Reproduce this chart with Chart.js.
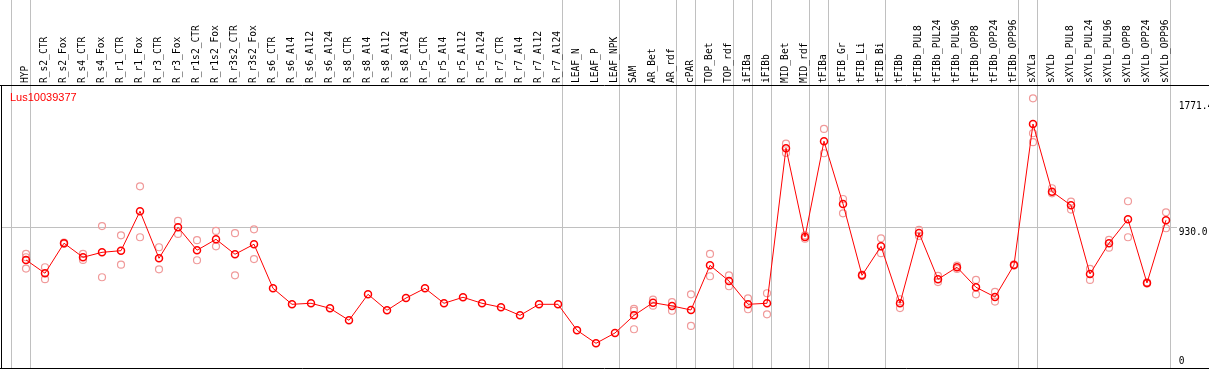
<!DOCTYPE html>
<html>
<head>
<meta charset="utf-8">
<title>Lus10039377</title>
<script src="https://cdn.jsdelivr.net/npm/chart.js@4/dist/chart.umd.min.js"></script>
<style>
  html, body { margin: 0; padding: 0; background: #fff; }
  canvas { display: block; }
</style>
</head>
<body>
<canvas id="chart" width="1209" height="370"></canvas>
<script>
var geneName = "Lus10039377";

var categories = [
	"HYP", "R_s2_CTR", "R_s2_Fox", "R_s4_CTR", "R_s4_Fox", "R_r1_CTR", "R_r1_Fox", "R_r3_CTR", "R_r3_Fox",
	"R_r1s2_CTR", "R_r1s2_Fox", "R_r3s2_CTR", "R_r3s2_Fox", "R_s6_CTR", "R_s6_Al4", "R_s6_Al12", "R_s6_Al24",
	"R_s8_CTR", "R_s8_Al4", "R_s8_Al12", "R_s8_Al24", "R_r5_CTR", "R_r5_Al4", "R_r5_Al12", "R_r5_Al24",
	"R_r7_CTR", "R_r7_Al4", "R_r7_Al12", "R_r7_Al24", "LEAF_N", "LEAF_P", "LEAF_NPK", "SAM", "AR_Bet", "AR_rdf",
	"cPAR", "TOP_Bet", "TOP_rdf", "iFIBa", "iFIBb", "MID_Bet", "MID_rdf", "tFIBa", "tFIB_Gr", "tFIB_Li", "tFIB_Bi",
	"tFIBb", "tFIBb_PUL8", "tFIBb_PUL24", "tFIBb_PUL96", "tFIBb_OPP8", "tFIBb_OPP24", "tFIBb_OPP96",
	"sXYLa", "sXYLb", "sXYLb_PUL8", "sXYLb_PUL24", "sXYLb_PUL96", "sXYLb_OPP8", "sXYLb_OPP24", "sXYLb_OPP96"
];

// mean expression per sample
var means = [
	716, 627, 828, 734, 767, 778, 1042, 727, 935, 781,
	854, 754, 821, 526, 419, 426, 392, 312, 486, 379,
	461, 526, 426, 466, 426, 399, 345, 419, 419, 245,
	158, 227, 345, 430, 408, 381, 680, 575, 419, 426,
	1464, 870, 1511, 1091, 613, 807, 426, 897, 587, 667,
	533, 468, 682, 1626, 1173, 1082, 622, 828, 988, 562, 982
];

// single replicates per sample
var replicates = [
	[756, 734, 658], [667, 587], [832, 824], [756, 716], [943, 600], [881, 684], [1209, 868], [801, 653],
	[977, 890], [848, 714], [910, 807], [895, 613], [921, 722],
	[], [], [], [], [], [], [], [], [], [], [], [], [], [], [], [], [], [], [],
	[388, 376, 252], [450, 410], [433, 376], [486, 274], [756, 607], [613, 540], [459, 386], [493, 352],
	[1494, 1432], [880, 858], [1593, 1430], [1124, 1028], [618, 608], [861, 761], [453, 394], [917, 877],
	[609, 568], [678, 656], [582, 486], [502, 437], [686, 678], [1798, 1564, 1504], [1196, 1162],
	[1106, 1053], [656, 582], [850, 798], [1109, 868], [566, 558], [1035, 928]
];

// last sample of each group, a grey rule follows it
var groupEnds = [-1, 0, 28, 31, 34, 35, 37, 38, 39, 41, 42, 45, 52, 53, 60];

var yTicks = [0, 930.0, 1771.4];
var gridValue = 930.0;

var xMin = -1.316, xMax = 60.579;
var yMin = -14, yMax = 1887;

var meanPoints = means.map(function(v, i){ return {x: i, y: v}; });
var repPoints = [];
for (var i = 0; i < replicates.length; i++) {
	for (var j = 0; j < replicates[i].length; j++) {
		repPoints.push({x: i, y: replicates[i][j]});
	}
}

var monoFont = { family: "'DejaVu Sans Mono', monospace", size: 9.6 };
// the zero label sits above its line, the others below
var zeroFont = { family: "'DejaVu Sans Mono', monospace", size: 9.6, lineHeight: 2 };

// no automatic padding around the axes
function noPadding(s){
	s.paddingLeft = 0; s.paddingRight = 0; s.paddingTop = 0; s.paddingBottom = 0;
}

// outer frame and gene name
var framePlugin = {
	id: 'frame',
	afterDraw: function(chart){
		var ctx = chart.ctx, a = chart.chartArea;
		ctx.save();
		ctx.strokeStyle = '#000';
		ctx.lineWidth = 1;
		ctx.beginPath();
		ctx.moveTo(0, a.top + 0.5); ctx.lineTo(chart.width, a.top + 0.5);
		ctx.moveTo(0, a.bottom - 0.5); ctx.lineTo(chart.width, a.bottom - 0.5);
		ctx.moveTo(a.left + 0.5, a.top); ctx.lineTo(a.left + 0.5, a.bottom);
		ctx.stroke();
		ctx.fillStyle = '#ff0000';
		ctx.font = '11px "Liberation Sans", Arial, sans-serif';
		ctx.fillText(geneName, 10, 101);
		ctx.restore();
	}
};

new Chart(document.getElementById('chart'), {
	type: 'line',
	data: {
		datasets: [
			{
				label: geneName,
				data: meanPoints,
				borderColor: '#ff0000',
				borderWidth: 1,
				tension: 0,
				pointRadius: 3.5,
				pointBorderWidth: 1.5,
				pointBorderColor: '#ff0000',
				pointBackgroundColor: 'rgba(0,0,0,0)'
			},
			{
				label: 'replicates',
				data: repPoints,
				showLine: false,
				pointRadius: 3.5,
				pointBorderWidth: 1.2,
				pointBorderColor: '#f09a9a',
				pointBackgroundColor: 'rgba(0,0,0,0)'
			}
		]
	},
	options: {
		responsive: false,
		devicePixelRatio: 1,
		animation: false,
		events: [],
		layout: { autoPadding: false, padding: { left: 1, bottom: 1, top: 0, right: 0 } },
		plugins: { legend: { display: false }, tooltip: { enabled: false } },
		scales: {
			xSep: {
				type: 'linear', position: 'top', weight: 0, min: xMin, max: xMax,
				afterBuildTicks: function(s){ s.ticks = groupEnds.map(function(k){ return {value: k + 0.237}; }); },
				afterFit: function(s){ s.height = 0; noPadding(s); },
				ticks: { display: false },
				grid: { color: '#c0c0c0', lineWidth: 1, drawTicks: true, tickLength: 85 },
				border: { display: false }
			},
			x: {
				type: 'linear', position: 'top', weight: 10, min: xMin, max: xMax,
				afterBuildTicks: function(s){ s.ticks = categories.map(function(c, i){ return {value: i}; }); },
				afterFit: function(s){ s.height = 85; noPadding(s); },
				ticks: {
					autoSkip: false, minRotation: 90, maxRotation: 90, padding: 2, labelOffset: 11,
					color: '#000', font: monoFont,
					callback: function(v){ return categories[v]; }
				},
				grid: { display: false, drawTicks: false },
				border: { display: false }
			},
			y: {
				type: 'linear', position: 'right', min: yMin, max: yMax,
				afterBuildTicks: function(s){ s.ticks = yTicks.map(function(v){ return {value: v}; }); },
				afterFit: function(s){ s.width = 32; noPadding(s); },
				ticks: {
					padding: 1.7, labelOffset: 4.3, color: '#000',
					font: function(c){ return c.tick && c.tick.value === 0 ? zeroFont : monoFont; },
					callback: function(v){ return v === 0 ? ['0', ''] : v.toFixed(1); }
				},
				grid: {
					drawTicks: false,
					color: function(c){ return c.tick && c.tick.value === gridValue ? '#c0c0c0' : 'rgba(0,0,0,0)'; }
				},
				border: { display: false }
			}
		}
	},
	plugins: [framePlugin]
});
</script>
</body>
</html>
